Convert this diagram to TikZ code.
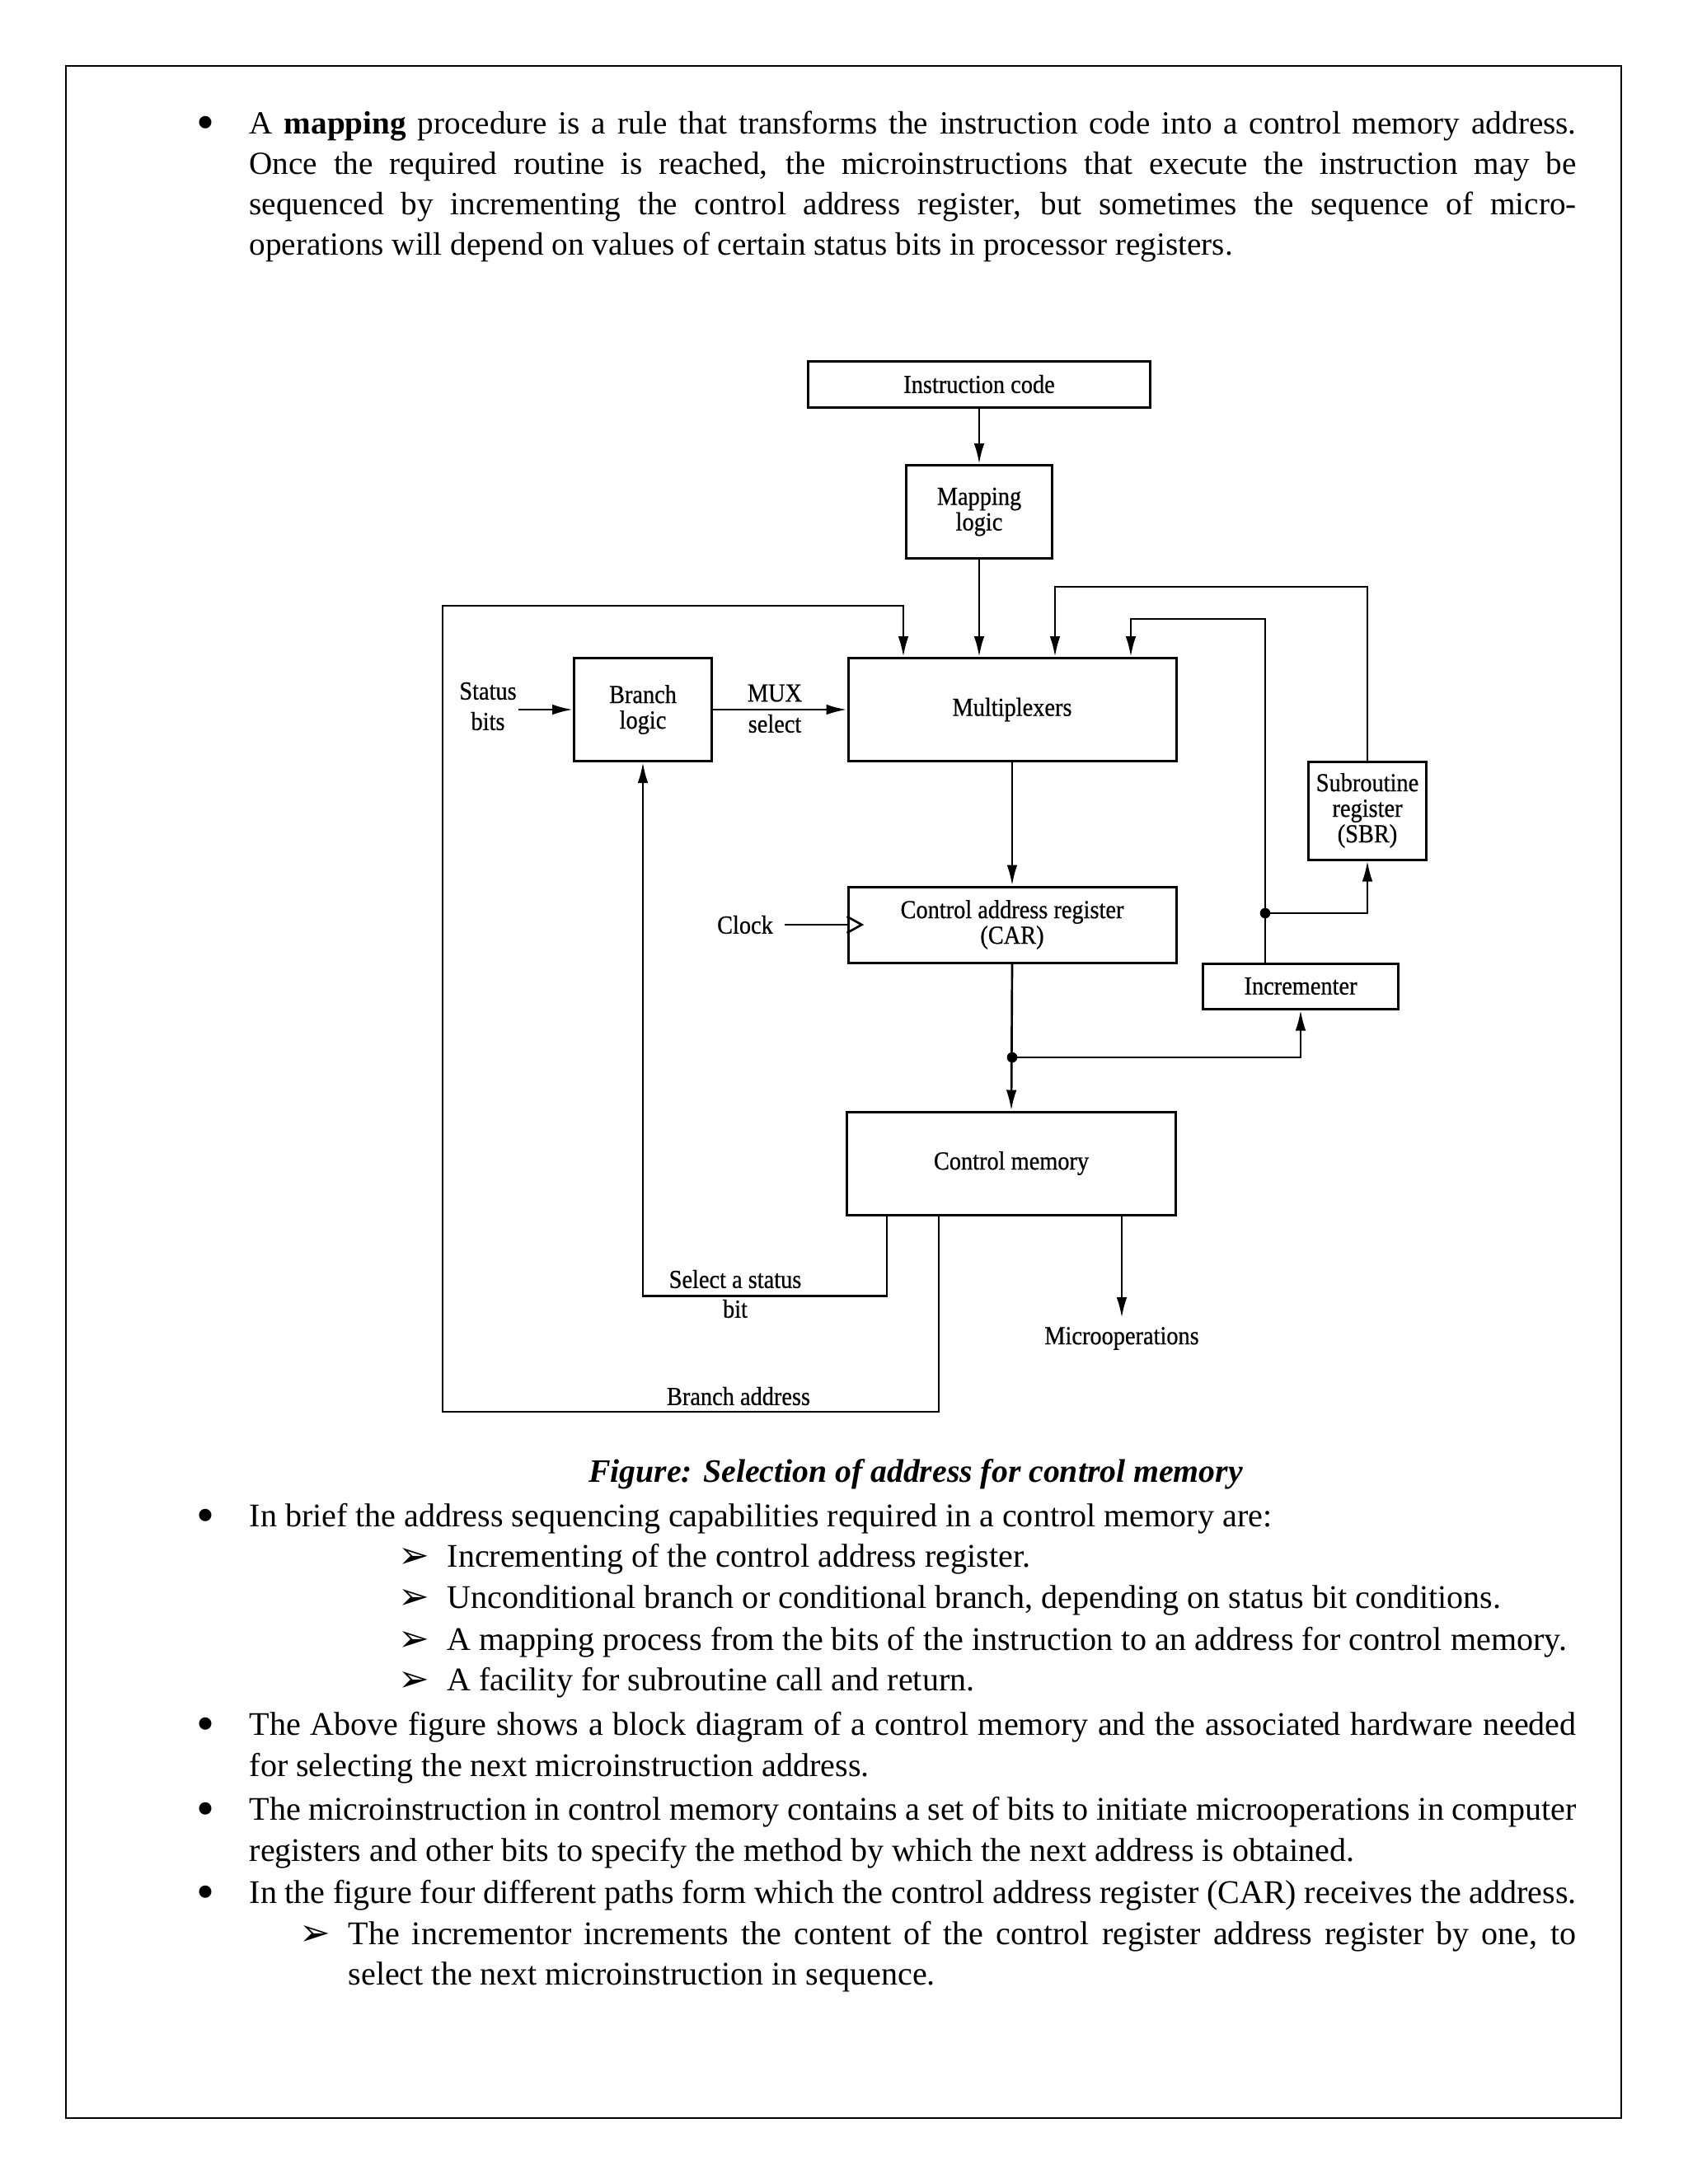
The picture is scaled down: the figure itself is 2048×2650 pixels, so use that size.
\documentclass[tikz,border=0pt]{standalone}
\usepackage{fontspec}
\setmainfont{Liberation Serif}
\newfontfamily\figfont[FakeStretch=0.9,FakeBold=0.6]{Liberation Serif}
\newfontfamily\symfont{DejaVu Sans}
\usetikzlibrary{arrows.meta,calc}
\newcommand\bodysize{\fontsize{11.76}{14}\selectfont}
\newcommand\lowsize{\fontsize{12.02}{14}\selectfont}
\newcommand\figsize{\figfont\fontsize{9.45}{9.3}\selectfont}
\newcommand\figsizewide{\figfont\fontsize{9.45}{11.1}\selectfont}
\newcommand\figsizemid{\figfont\fontsize{9.45}{10.8}\selectfont}
\newcommand\jline[2]{\hbox to #1{#2}}
\newcommand\bigbullet{\raisebox{-2.2pt}{\scalebox{1.6}{•}}}
\begin{document}
\begin{tikzpicture}[x=0.3pt,y=-0.3pt,
  txt/.style={anchor=base west,inner sep=0pt,font=\bodysize},
  ltxt/.style={anchor=base west,inner sep=0pt,font=\lowsize},
  bul/.style={anchor=base west,inner sep=0pt,font=\bodysize},
  sub/.style={anchor=base west,inner sep=0pt,font=\symfont\fontsize{13.5}{14}\selectfont},
  blk/.style={draw,line width=0.9pt,inner sep=0pt,align=center,font=\figsize},
  lbl/.style={inner sep=0pt,align=center,font=\figsize},
  arr/.style={line width=0.8pt,-{Latex[length=7.5pt,width=3.8pt]}},
  wire/.style={line width=0.8pt},
  dot/.style={circle,fill,inner sep=0pt,minimum size=3.8pt},
]
\useasboundingbox (0,0) rectangle (2048,2650);
\draw[line width=0.7pt] (80,80) rectangle (1967,2570);

% ---------- paragraph 1 ----------
\node[bul] (p1b) at (238,162) {\bigbullet};
\node[txt] (p1l1) at (302,162) {\jline{483pt}{A \textbf{mapping} procedure is a rule that transforms the instruction code into a control memory address.}};
\node[txt] (p1l2) at (302,211) {\jline{483pt}{Once the required routine is reached, the microinstructions that execute the instruction may be}};
\node[txt] (p1l3) at (302,260) {\jline{483pt}{sequenced by incrementing the control address register, but sometimes the sequence of micro-}};
\node[txt] (p1l4) at (302,309) {operations will depend on values of certain status bits in processor registers.};

% ---------- diagram ----------
\node[blk,minimum width=124.5pt,minimum height=16.8pt] (ic) at (1188,466) {Instruction code};
\node[blk,minimum width=53.1pt,minimum height=33.9pt] (ml) at (1188,621) {Mapping\\logic};
\node[blk,minimum width=119.4pt,minimum height=37.5pt] (mux) at (1228,861) {Multiplexers};
\node[blk,minimum width=50.1pt,minimum height=37.5pt] (bl) at (780,861) {Branch\\logic};
\node[blk,minimum width=42.9pt,minimum height=35.7pt] (sbr) at (1659,983.5) {Subroutine\\register\\(SBR)};
\node[blk,minimum width=119.4pt,minimum height=27.6pt] (car) at (1228,1122) {Control address register\\(CAR)};
\node[blk,minimum width=71.1pt,minimum height=16.5pt] (inc) at (1578,1196.5) {Incrementer};
\node[blk,minimum width=119.7pt,minimum height=37.5pt] (cm) at (1227,1411.5) {Control memory};

\node[lbl,font=\figsizewide] (sb) at (592,857) {Status\\bits};
\node[lbl] (muxl) at (940,841) {MUX};
\node[lbl] (sell) at (940,878) {select};
\node[lbl] (clk) at (904,1122) {Clock};
\node[lbl,font=\figsizemid] (ssb) at (892,1570) {Select a status\\bit};
\node[lbl] (ba) at (896,1694) {Branch address};
\node[lbl] (mo) at (1361,1624) {Microoperations};

\draw[arr] (ic.south) -- (ml.north);
\draw[arr] (ml.south) -- (ml.south |- mux.north);
\draw[arr] ($(bl.west)+(-66,0)$) -- (bl.west);
\draw[arr] (bl.east) -- (mux.west);
\draw[arr] (mux.south) -- (car.north);
\draw[wire] (952,1122) -- (car.west);
\draw[wire] ($(car.west)+(0,-10)$) -- ($(car.west)+(18,0)$) -- ($(car.west)+(0,10)$);

\coordinate (j2) at (1228,1283);
\draw[arr] (car.south) -- (cm.north);
\draw[arr] (j2) -| (inc.south);
\node[dot] at (j2) {};

\coordinate (j1) at (1535,1108);
\draw[arr] ($(inc.north)+(-43,0)$) |- (1372,751) -- ($(mux.north)+(144,0)$);
\draw[arr] (j1) -| (sbr.south);
\node[dot] at (j1) {};
\draw[arr] (sbr.north) |- (1280,712) -- ($(mux.north)+(52,0)$);

\draw[arr] ($(cm.south)+(-88,0)$) |- (537,1713) |- (1096,735) -- ($(mux.north)+(-132,0)$);
\draw[arr] ($(cm.south)+(-151,0)$) -- ++(0,97) -| (bl.south);
\draw[arr] ($(cm.south)+(134,0)$) -- (1361,1599);

% ---------- caption and text ----------
\node[anchor=base,inner sep=0pt,font=\fontsize{11.92}{14}\selectfont\bfseries\itshape] (cap) at (1111,1798) {Figure: Selection of address for control memory};

\node[bul] (b2) at (238,1852) {\bigbullet};
\node[ltxt] (t2) at (302,1852) {In brief the address sequencing capabilities required in a control memory are:};
\node[sub] (s1) at (483,1902) {➢};
\node[ltxt] (t3) at (542,1901) {Incrementing of the control address register.};
\node[sub] (s2) at (483,1952) {➢};
\node[ltxt] (t4) at (542,1951) {Unconditional branch or conditional branch, depending on status bit conditions.};
\node[sub] (s3) at (483,2003) {➢};
\node[ltxt] (t5) at (542,2002) {A mapping process from the bits of the instruction to an address for control memory.};
\node[sub] (s4) at (483,2052) {➢};
\node[ltxt] (t6) at (542,2051) {A facility for subroutine call and return.};

\node[bul] (b3) at (238,2105) {\bigbullet};
\node[ltxt] (t7) at (302,2105) {\jline{483pt}{The Above figure shows a block diagram of a control memory and the associated hardware needed}};
\node[ltxt] (t8) at (302,2155) {for selecting the next microinstruction address.};
\node[bul] (b4) at (238,2208) {\bigbullet};
\node[ltxt] (t9) at (302,2208) {\jline{483pt}{The microinstruction in control memory contains a set of bits to initiate microoperations in computer}};
\node[ltxt] (t10) at (302,2258) {registers and other bits to specify the method by which the next address is obtained.};
\node[bul] (b5) at (238,2309) {\bigbullet};
\node[ltxt] (t11) at (302,2309) {\jline{483pt}{In the figure four different paths form which the control address register (CAR) receives the address.}};
\node[sub] (s5) at (363,2360) {➢};
\node[ltxt] (t12) at (422,2359) {\jline{447pt}{The incrementor increments the content of the control register address register by one, to}};
\node[ltxt] (t13) at (422,2408) {select the next microinstruction in sequence.};
\end{tikzpicture}
\end{document}
